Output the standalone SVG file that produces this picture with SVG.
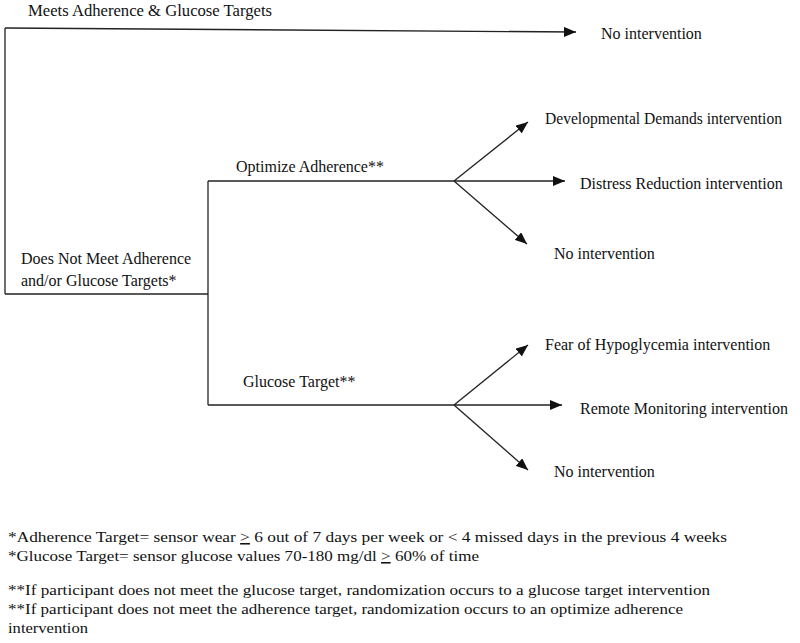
<svg xmlns="http://www.w3.org/2000/svg" width="800" height="643" viewBox="0 0 800 643">
<defs>
<marker id="ah" viewBox="0 0 12 10" refX="12" refY="5" markerWidth="12" markerHeight="10" markerUnits="userSpaceOnUse" orient="auto">
<path d="M0,0 L12,5 L0,10 Z" fill="#111"/>
</marker>
<style>
.t{font-family:"Liberation Serif","Times New Roman",serif;font-size:16px;fill:#111}
.f{font-family:"Liberation Serif","Times New Roman",serif;font-size:15.5px;fill:#111}
.l{stroke:#222;stroke-width:1.3;fill:none}
.a{stroke:#222;stroke-width:1.3;fill:none;marker-end:url(#ah)}
</style>
</defs>
<rect width="800" height="643" fill="#fff"/>
<g id="connectors">
<path class="l" d="M5,294 L5,28"/>
<path class="a" d="M5,28 L576,32"/>
<path class="l" d="M5,294 L208,294"/>
<path class="l" d="M208,181 L208,405"/>
<path class="l" d="M208,181 L454,181"/>
<path class="a" d="M454,181 L528,122"/>
<path class="a" d="M454,181 L565,181"/>
<path class="a" d="M454,181 L527,244"/>
<path class="l" d="M208,405 L454,405"/>
<path class="a" d="M454,405 L528,345"/>
<path class="a" d="M454,405 L562,405"/>
<path class="a" d="M454,405 L528,470"/>
</g>
<g id="meets"><text class="t" x="28" y="16" textLength="244" lengthAdjust="spacingAndGlyphs">Meets Adherence &amp; Glucose Targets</text></g>
<g id="no-intervention-1"><text class="t" x="601" y="39">No intervention</text></g>
<g id="does-not-meet"><text class="t" x="21" y="264">Does Not Meet Adherence</text><text class="t" x="21" y="286">and/or Glucose Targets*</text></g>
<g id="optimize"><text class="t" x="236" y="172">Optimize Adherence**</text></g>
<g id="developmental"><text class="t" x="545" y="124" textLength="237" lengthAdjust="spacingAndGlyphs">Developmental Demands intervention</text></g>
<g id="distress"><text class="t" x="580" y="189">Distress Reduction intervention</text></g>
<g id="no-intervention-2"><text class="t" x="554" y="259">No intervention</text></g>
<g id="glucose"><text class="t" x="243" y="387">Glucose Target**</text></g>
<g id="fear"><text class="t" x="545" y="350">Fear of Hypoglycemia intervention</text></g>
<g id="remote"><text class="t" x="580" y="414">Remote Monitoring intervention</text></g>
<g id="no-intervention-3"><text class="t" x="554" y="477">No intervention</text></g>
<g id="footnotes">
<text class="f" x="8" y="542" textLength="719" lengthAdjust="spacingAndGlyphs">*Adherence Target= sensor wear <tspan text-decoration="underline">&gt;</tspan> 6 out of 7 days per week or &lt; 4 missed days in the previous 4 weeks</text>
<text class="f" x="8" y="561" textLength="471" lengthAdjust="spacingAndGlyphs">*Glucose Target= sensor glucose values 70-180 mg/dl <tspan text-decoration="underline">&gt;</tspan> 60% of time</text>
<text class="f" x="8" y="595" textLength="702" lengthAdjust="spacingAndGlyphs">**If participant does not meet the glucose target, randomization occurs to a glucose target intervention</text>
<text class="f" x="8" y="614" textLength="675" lengthAdjust="spacingAndGlyphs">**If participant does not meet the adherence target, randomization occurs to an optimize adherence</text>
<text class="f" x="8" y="633" textLength="80" lengthAdjust="spacingAndGlyphs">intervention</text>
</g>
</svg>
